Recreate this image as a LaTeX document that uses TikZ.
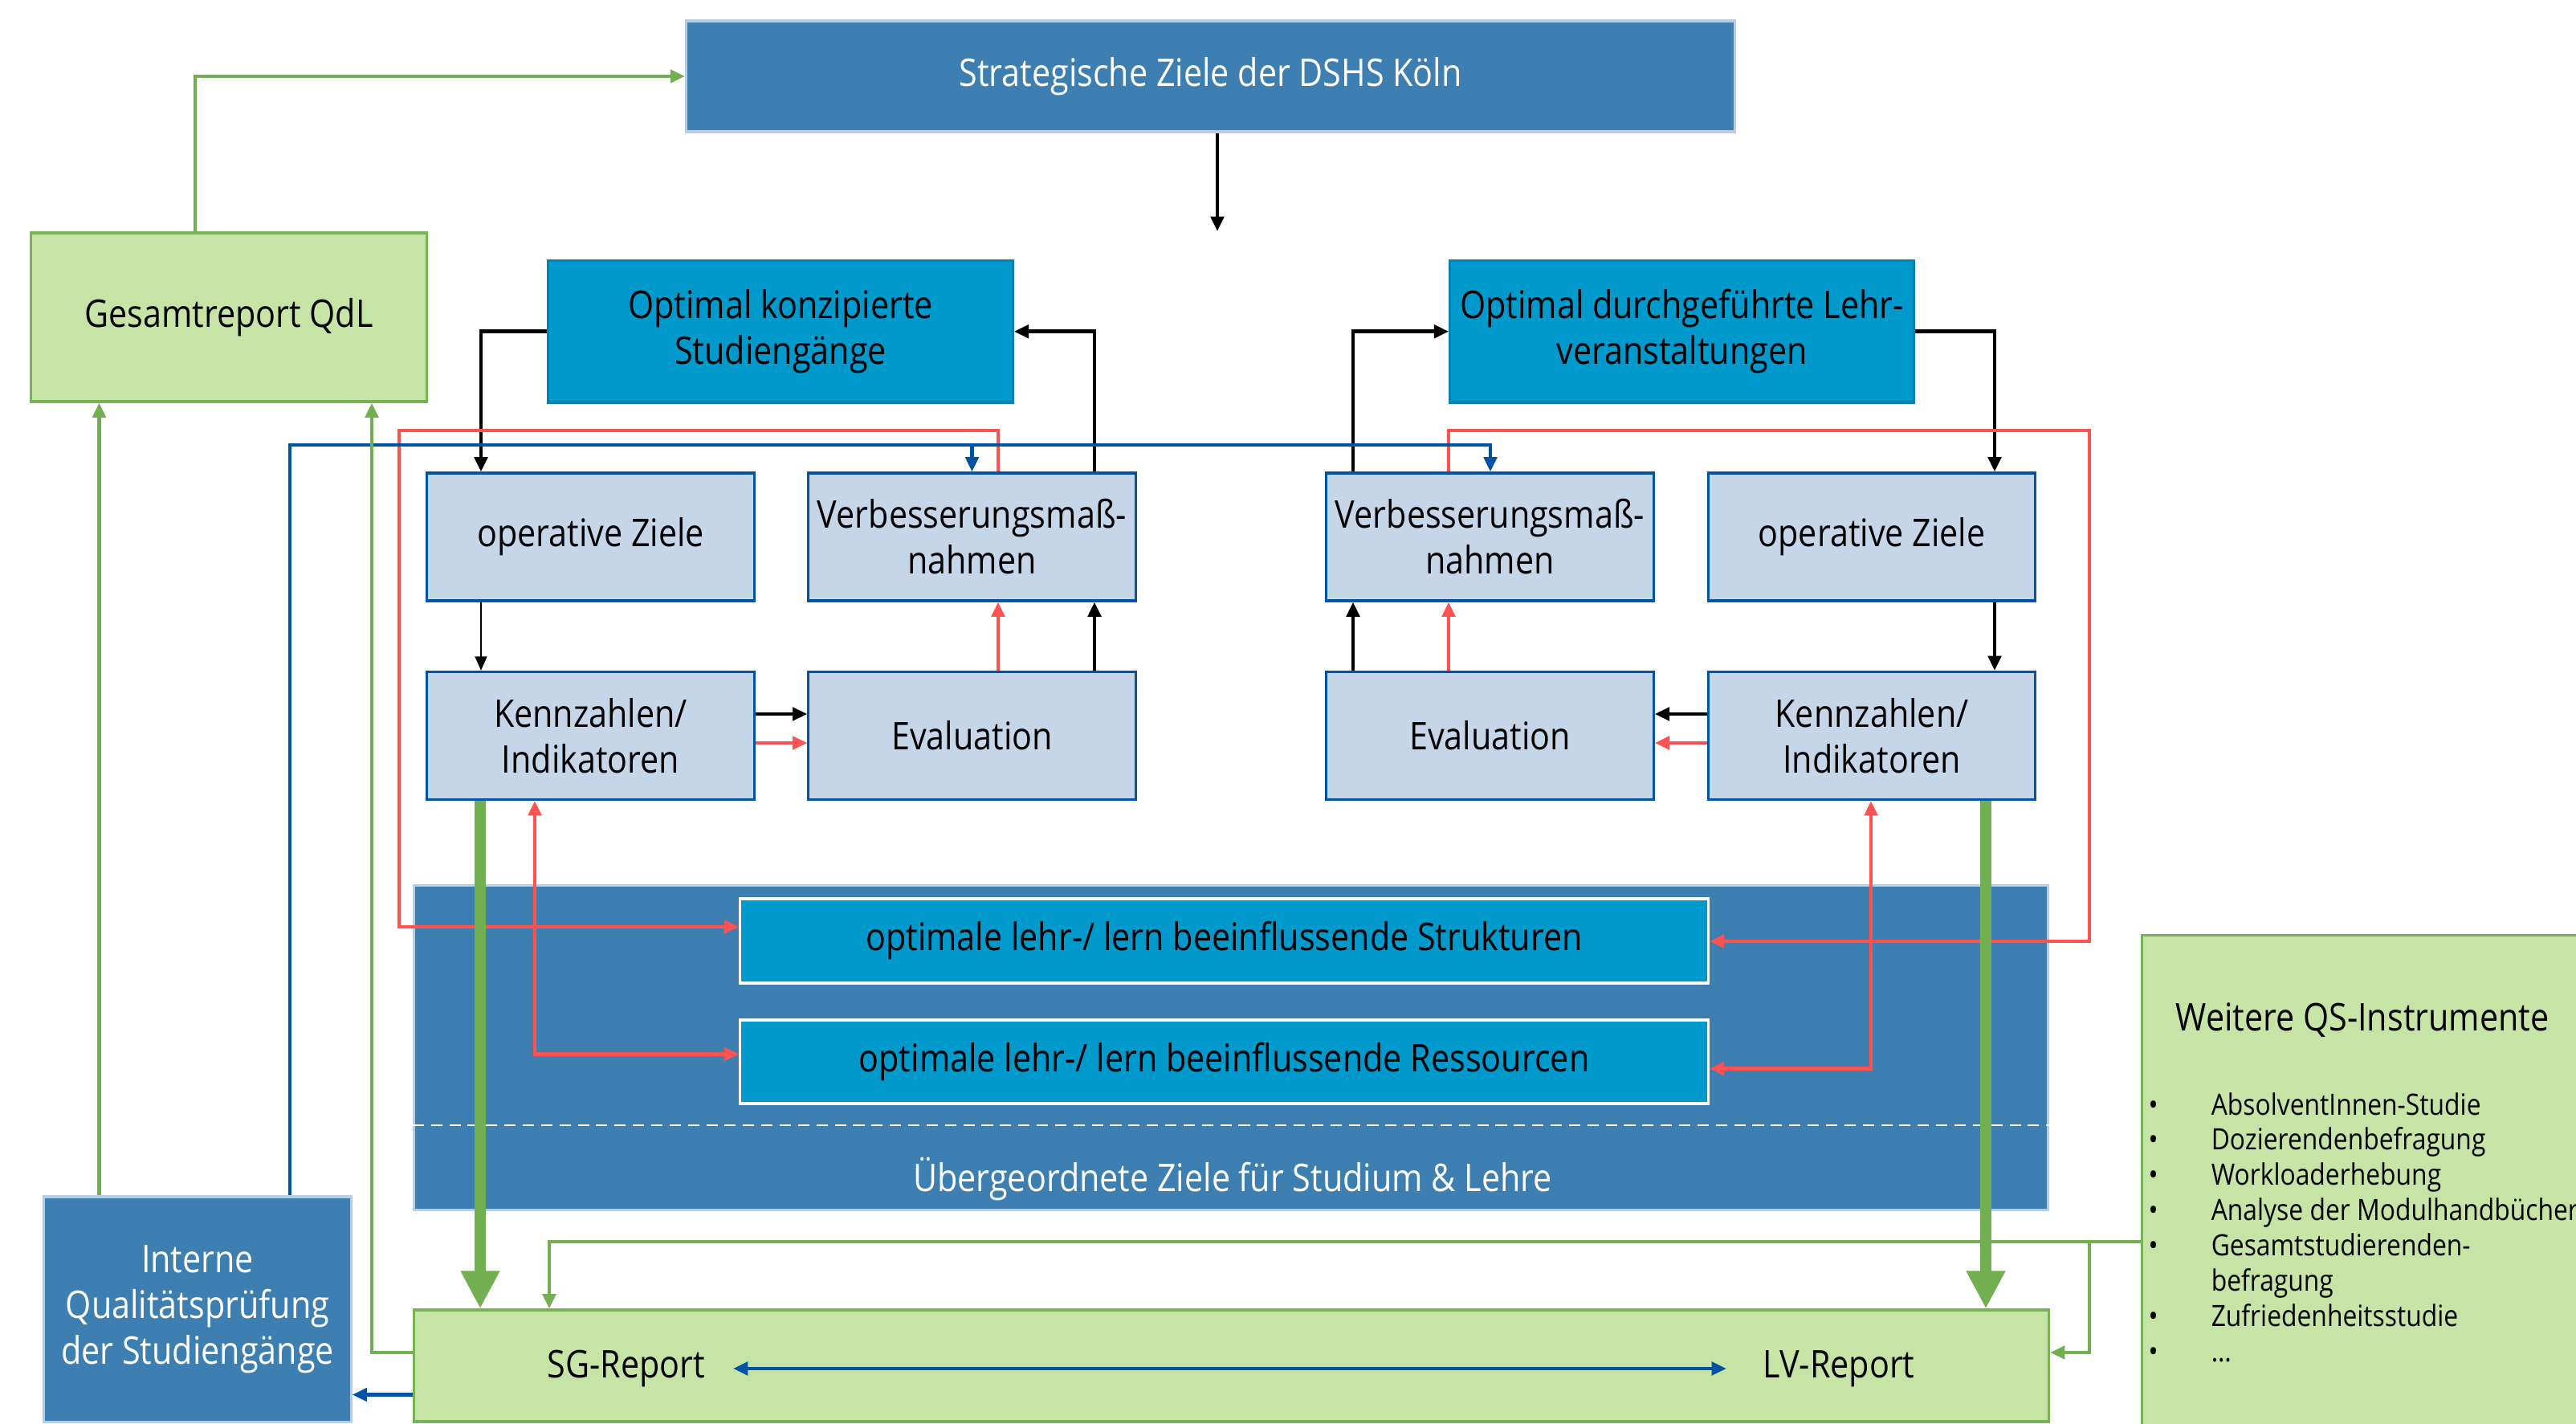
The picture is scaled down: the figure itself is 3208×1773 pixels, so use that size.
\documentclass[tikz,border=0pt]{standalone}
\usepackage{fontspec}
\setmainfont[FakeStretch=0.87]{Open Sans}
\usetikzlibrary{arrows.meta}
\definecolor{midblue}{HTML}{3E7FB1}
\definecolor{midblueedge}{HTML}{B8CCE4}
\definecolor{cyanbox}{HTML}{0099CC}
\definecolor{cyanedge}{HTML}{0082B4}
\definecolor{steel}{HTML}{C6D6E9}
\definecolor{steeledge}{HTML}{0054A6}
\definecolor{lgreen}{HTML}{C6E4A5}
\definecolor{lgreenedge}{HTML}{77B255}
\definecolor{gline}{HTML}{72AF50}
\definecolor{rline}{HTML}{FF5252}
\definecolor{bline}{HTML}{0052A3}
\begin{document}
\begin{tikzpicture}[x=0.01cm,y=-0.01cm,
  every node/.style={font=\fontsize{13.5}{16.2}\selectfont, align=center, inner sep=0pt, text=black},
  midbox/.style={rectangle, fill=midblue, draw=midblueedge, line width=0.9pt, text=white},
  cbox/.style={rectangle, fill=cyanbox, draw=cyanedge, line width=0.9pt},
  sbox/.style={rectangle, fill=steel, draw=steeledge, line width=0.9pt, minimum width=4.07cm, minimum height=1.59cm},
  gbox/.style={rectangle, fill=lgreen, draw=lgreenedge, line width=0.9pt},
  tip/.style={-{Triangle[length=5.2pt,width=4.6pt]}},
  blk/.style={draw=black, line width=1.3pt, tip},
  blkthin/.style={draw=black, line width=0.75pt, -{Triangle[length=5pt,width=4.2pt]}},
  redl/.style={draw=rline, line width=1.4pt, tip},
  redboth/.style={draw=rline, line width=1.4pt, {Triangle[length=5.2pt,width=4.6pt]}-{Triangle[length=5.2pt,width=4.6pt]}},
  blu/.style={draw=bline, line width=1.4pt, tip},
  bluboth/.style={draw=bline, line width=1.4pt, {Triangle[length=5.2pt,width=4.6pt]}-{Triangle[length=5.2pt,width=4.6pt]}},
  grn/.style={draw=gline, line width=1.3pt, tip},
  grnthick/.style={draw=gline, line width=4.2pt, -{Triangle[length=13.4pt,width=13pt]}}
]
\useasboundingbox[fill=white] (0,0) rectangle (3208,1773);

% boxes
\node[midbox, minimum width=13.05cm, minimum height=1.38cm] (strat) at (1507.5,95) {Strategische Ziele der DSHS Köln};
\node[gbox, minimum width=4.92cm, minimum height=2.10cm] (gesamt) at (285,395) {Gesamtreport QdL};
\node[cbox, minimum width=5.78cm, minimum height=1.765cm] (konz) at (972,412.75) {Optimal konzipierte\\Studiengänge};
\node[cbox, minimum width=5.77cm, minimum height=1.765cm] (durch) at (2094.5,412.75) {Optimal durchgeführte Lehr-\\veranstaltungen};

\node[sbox] (opL) at (735.5,668.5) {operative Ziele};
\node[sbox] (verbL) at (1210.5,668.5) {Verbesserungsmaß-\\nahmen};
\node[sbox] (verbR) at (1855.5,668.5) {Verbesserungsmaß-\\nahmen};
\node[sbox] (opR) at (2331,668.5) {operative Ziele};
\node[sbox] (kennL) at (735.5,916) {Kennzahlen/\\Indikatoren};
\node[sbox] (evalL) at (1210.5,916) {Evaluation};
\node[sbox] (evalR) at (1855.5,916) {Evaluation};
\node[sbox] (kennR) at (2331,916) {Kennzahlen/\\Indikatoren};

\node[midbox, minimum width=20.34cm, minimum height=4.03cm] (ziele) at (1533,1304.5) {};
\draw[white, line width=0.6pt, dash pattern=on 4pt off 2.5pt] (ziele.west |- 0,1401) -- (ziele.east |- 0,1401);
\node[text=white] (zielelbl) at (1535,1468) {Übergeordnete Ziele für Studium \& Lehre};
\node[cbox, draw=white, minimum width=12.05cm, minimum height=1.05cm] (struk) at (1524.5,1171.5) {optimale lehr-/ lern beeinflussende Strukturen};
\node[cbox, draw=white, minimum width=12.05cm, minimum height=1.04cm] (ress) at (1524.5,1322) {optimale lehr-/ lern beeinflussende Ressourcen};

\node[midbox, minimum width=3.82cm, minimum height=2.80cm] (interne) at (246,1630) {Interne\\Qualitätsprüfung\\der Studiengänge};
\node[gbox, minimum width=20.35cm, minimum height=1.39cm] (report) at (1533.5,1700.5) {};
\node (sg) at (780,1704) {SG-Report};
\node (lv) at (2290,1704) {LV-Report};

\node[gbox, anchor=north west, minimum width=5.6cm, minimum height=6.3cm] (weitere) at (2666,1163) {};
\node (wtitle) at (2942,1270) {Weitere QS-Instrumente};
\node[anchor=base west, font=\fontsize{10.4}{12.5}\selectfont] (wlist) at (2675,1388) {%
\begin{tabular}[t]{@{}p{0.78cm}@{}l@{}}
\textbullet & AbsolventInnen-Studie\\
\textbullet & Dozierendenbefragung\\
\textbullet & Workloaderhebung\\
\textbullet & Analyse der Modulhandbücher\\
\textbullet & Gesamtstudierenden-\\
 & befragung\\
\textbullet & Zufriedenheitsstudie\\
\textbullet & \ldots
\end{tabular}};

% black flow
\coordinate (stratend) at (1516,288);
\draw[blk] (1516,0 |- strat.south) -- (stratend);
\draw[blk] (konz.west) -| (599,0 |- opL.north);
\draw[blk] (1363,0 |- verbL.north) |- (konz.east);
\draw[blk] (1685,0 |- verbR.north) |- (durch.west);
\draw[blk] (durch.east) -| (2484,0 |- opR.north);
\draw[blkthin] (599,0 |- opL.south) -- (599,0 |- kennL.north);
\draw[blk] (2484,0 |- opR.south) -- (2484,0 |- kennR.north);
\draw[blk] (kennL.east |- 0,889) -- (evalL.west |- 0,889);
\draw[blk] (kennR.west |- 0,889) -- (evalR.east |- 0,889);
\draw[blk] (1363,0 |- evalL.north) -- (1363,0 |- verbL.south);
\draw[blk] (1685,0 |- evalR.north) -- (1685,0 |- verbR.south);

% red
\draw[redl] (kennL.east |- 0,925) -- (evalL.west |- 0,925);
\draw[redl] (kennR.west |- 0,925) -- (evalR.east |- 0,925);
\draw[redl] (1243,0 |- evalL.north) -- (1243,0 |- verbL.south);
\draw[redl] (1804,0 |- evalR.north) -- (1804,0 |- verbR.south);
\draw[redl] (1243,0 |- verbL.north) |- (497,536) |- (struk.west |- 0,1154);
\draw[redl] (1804,0 |- verbR.north) |- (2602,536) |- (struk.east |- 0,1172);
\draw[redboth] (666,0 |- kennL.south) |- (ress.west |- 0,1312.5);
\draw[redboth] (2330,0 |- kennR.south) |- (ress.east |- 0,1330.5);

% blue
\coordinate (bbranch) at (1210.5,554);
\draw[blu] (361,0 |- interne.north) |- (1856,554) -- (1856,0 |- verbR.north);
\draw[blu] (bbranch) -- (verbL.north);
\draw[blu] (report.west |- 0,1736.5) -- (interne.east |- 0,1736.5);
\draw[bluboth] (913,0 |- sg) -- (2150,0 |- lv);

% green
\draw[grn] (243,0 |- gesamt.north) |- (strat.west);
\draw[grn] (123.5,0 |- interne.north) -- (123.5,0 |- gesamt.south);
\draw[grn] (report.west |- 0,1684) -| (463,0 |- gesamt.south);
\coordinate (gbranch) at (2602,1546);
\draw[grn] (weitere.west |- 0,1546) -| (684,0 |- report.north);
\draw[grn] (gbranch) |- (report.east |- 0,1684);
\draw[grnthick] (598,0 |- kennL.south) -- (598,0 |- report.north);
\draw[grnthick] (2473,0 |- kennR.south) -- (2473,0 |- report.north);
\end{tikzpicture}
\end{document}
